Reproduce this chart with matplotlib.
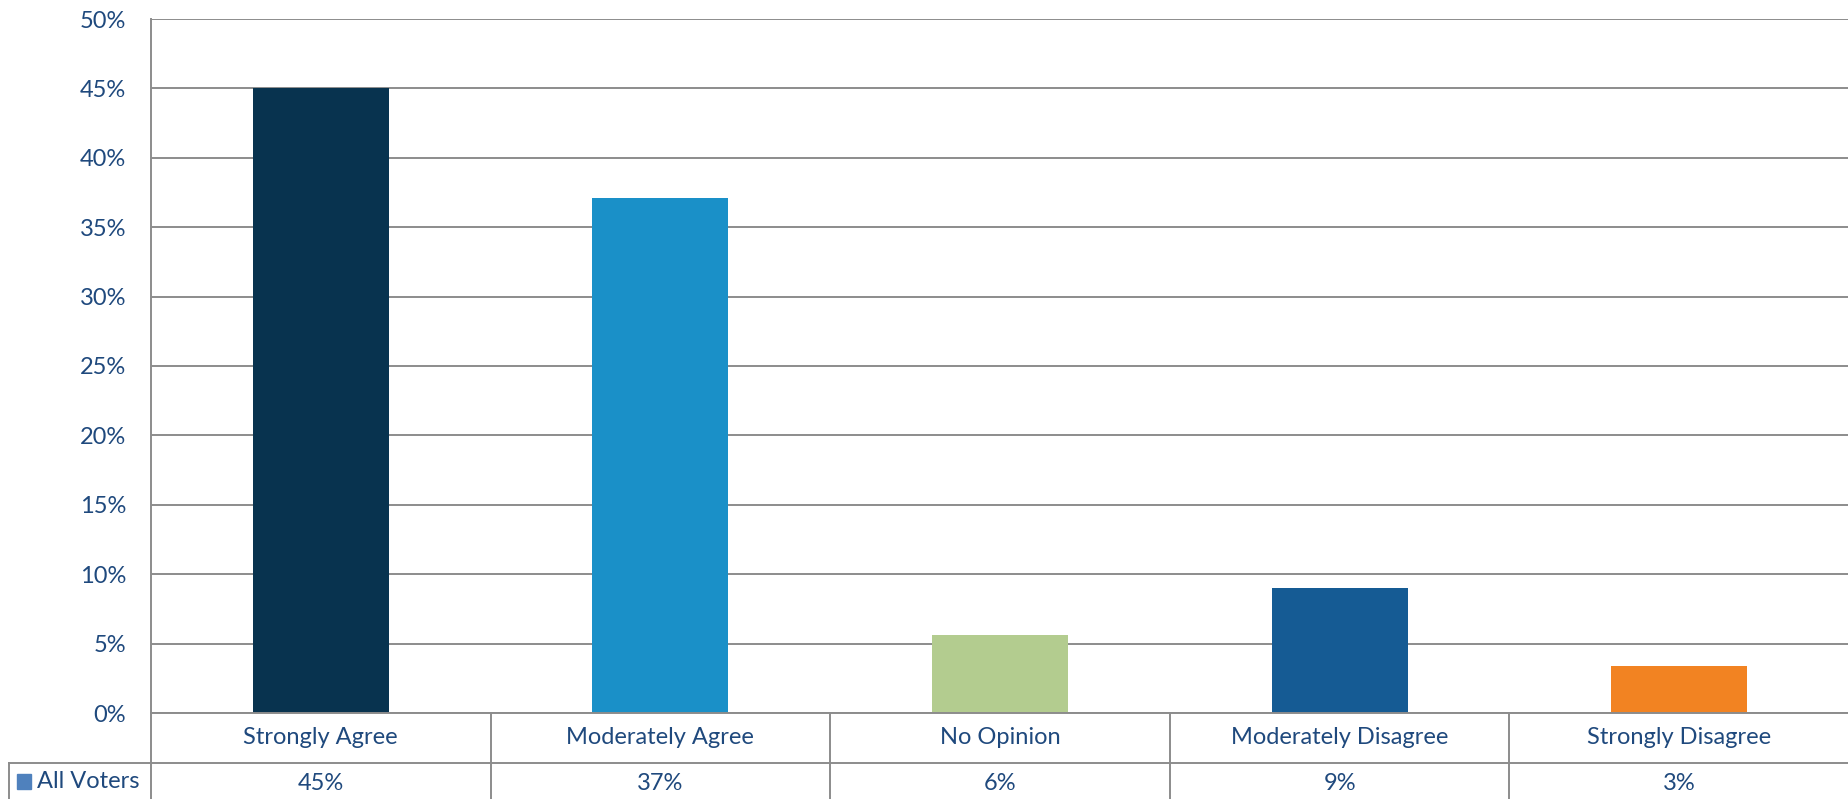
import matplotlib
matplotlib.use("Agg")
import matplotlib.pyplot as plt
from matplotlib.transforms import blended_transform_factory
from matplotlib.patches import Rectangle
from matplotlib.lines import Line2D

categories = ["Strongly Agree", "Moderately Agree", "No Opinion", "Moderately Disagree", "Strongly Disagree"]
values = [45.0, 37.1, 5.6, 9.0, 3.4]
table_labels = ["45%", "37%", "6%", "9%", "3%"]
series_name = "All Voters"
bar_colors = ["#08334F", "#1A90C8", "#B3CC8F", "#155B94", "#F28322"]
yticks = [0, 5, 10, 15, 20, 25, 30, 35, 40, 45, 50]

TEXT = "#1F497D"
GRID = "#8C8C8C"
plt.rcParams['font.family'] = ['Lato', 'DejaVu Sans']

W, H = 1849, 799
fig = plt.figure(figsize=(W / 100, H / 100), dpi=100)
left, right, bottom, top = 151 / W, 1.0, 1 - 713 / H, 1 - 19 / H
ax = fig.add_axes([left, bottom, right - left, top - bottom])

x = list(range(len(categories)))
ax.bar(x, values, width=0.4, color=bar_colors, zorder=3)
ax.set_xlim(-0.5, len(categories) - 0.5)
ax.set_ylim(0, 50)
ax.set_yticks(yticks)
ax.set_yticklabels([f"{v}%" for v in yticks], color=TEXT, fontsize=17)
ax.tick_params(axis='y', length=0, pad=18)
ax.set_xticks([])
ax.yaxis.grid(True, color=GRID, linewidth=1.4, zorder=0)
for s in ["top", "right", "bottom"]:
    ax.spines[s].set_visible(False)
ax.spines["left"].set_color(GRID)
ax.spines["left"].set_linewidth(1.4)
ax.spines["left"].set_zorder(4)

# data table below the axes
ax_h = 713 - 19
row1 = -50 / ax_h
row2 = -86 / ax_h
trans = blended_transform_factory(ax.transData, ax.transAxes)
lw = 1.4
# axis baseline
ax.add_line(Line2D([-0.5, len(categories) - 0.5], [0, 0], transform=trans, color=GRID, lw=lw, clip_on=False, zorder=5))
# row separator from table left edge
xfig_left = 9 / W
line = Line2D([xfig_left, 1.0], [1 - 763 / H, 1 - 763 / H], transform=fig.transFigure, color=GRID, lw=lw)
fig.add_artist(line)
fig.add_artist(Line2D([xfig_left, xfig_left], [1 - 763 / H, 0], transform=fig.transFigure, color=GRID, lw=lw))
# vertical dividers
for b in [-0.5 + i for i in range(len(categories))]:
    ax.add_line(Line2D([b, b], [0, row2 - 0.05], transform=trans, color=GRID, lw=lw, clip_on=False))

for i, (c, t) in enumerate(zip(categories, table_labels)):
    ax.text(i, row1 / 2, c, transform=trans, ha='center', va='center', color=TEXT, fontsize=17)
    ax.text(i, (row1 + row2) / 2 - 0.003, t, transform=trans, ha='center', va='center', color=TEXT, fontsize=17)

# legend key + series name
ymid = 1 - 781 / H
fig.add_artist(Rectangle((17 / W, ymid - 8 / H), 14 / W, 15 / H, transform=fig.transFigure, color="#4F81BD"))
fig.text(37 / W, ymid, series_name, ha='left', va='center', color=TEXT, fontsize=17)

fig.savefig("out.png", dpi=100)
